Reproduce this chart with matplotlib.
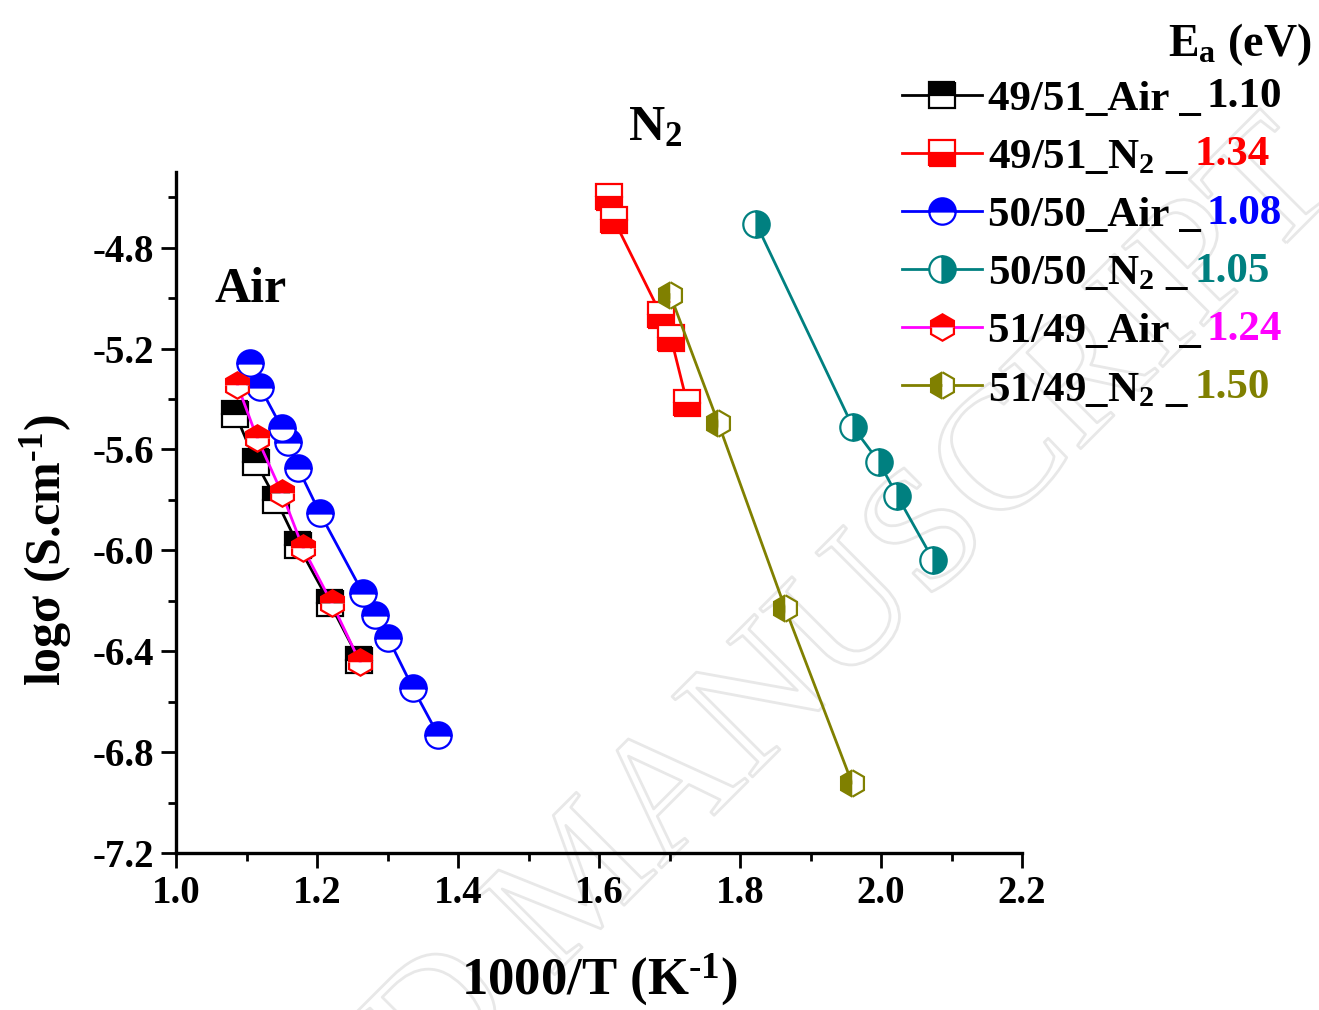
import matplotlib
matplotlib.use("Agg")
import matplotlib.pyplot as plt
import matplotlib.patheffects as pe
from matplotlib.ticker import MultipleLocator

plt.rcParams['font.family'] = ['Liberation Serif', 'DejaVu Serif']
plt.rcParams['font.weight'] = 'bold'
plt.rcParams['mathtext.fontset'] = 'custom'
plt.rcParams['mathtext.rm'] = 'Liberation Serif:bold'
plt.rcParams['mathtext.bf'] = 'Liberation Serif:bold'
plt.rcParams['mathtext.it'] = 'Liberation Serif:bold:italic'
plt.rcParams['axes.unicode_minus'] = False

# ---- data ----
x_4951_air = [1.084, 1.113, 1.142, 1.173, 1.218, 1.260]
y_4951_air = [-5.459, -5.649, -5.800, -5.979, -6.209, -6.435]

x_4951_n2 = [1.614, 1.621, 1.688, 1.702, 1.725]
y_4951_n2 = [-4.598, -4.689, -5.066, -5.157, -5.415]

x_5050_air = [1.105, 1.119, 1.150, 1.159, 1.173, 1.204, 1.265, 1.282, 1.301, 1.336, 1.372]
y_5050_air = [-5.256, -5.352, -5.514, -5.570, -5.673, -5.852, -6.169, -6.256, -6.348, -6.546, -6.733]

x_5050_n2 = [1.823, 1.960, 1.997, 2.023, 2.074]
y_5050_n2 = [-4.705, -5.510, -5.649, -5.784, -6.038]

x_5149_air = [1.087, 1.115, 1.150, 1.180, 1.221, 1.261]
y_5149_air = [-5.344, -5.554, -5.772, -5.990, -6.209, -6.443]

x_5149_n2 = [1.701, 1.769, 1.864, 1.959]
y_5149_n2 = [-4.987, -5.494, -6.229, -6.923]

names = ["49/51_Air _", "49/51_N$_2$ _", "50/50_Air _", "50/50_N$_2$ _", "51/49_Air _", "51/49_N$_2$ _"]
ea_values = ["1.10", "1.34", "1.08", "1.05", "1.24", "1.50"]
line_colors = ["black", "#ff0000", "#0000ff", "#008080", "#ff00ff", "#808000"]
marker_colors = ["black", "#ff0000", "#0000ff", "#008080", "#ff0000", "#808000"]
markers = ["s", "s", "o", "o", "h", "h"]
fills = ["top", "bottom", "top", "right", "top", "left"]

xs = [x_4951_air, x_4951_n2, x_5050_air, x_5050_n2, x_5149_air, x_5149_n2]
ys = [y_4951_air, y_4951_n2, y_5050_air, y_5050_n2, y_5149_air, y_5149_n2]

W, H = 1319, 1010
fig = plt.figure(figsize=(W / 100, H / 100), dpi=100)
ax = fig.add_axes([176 / W, (H - 853) / H, 846 / W, (853 - 172) / H])
ax.patch.set_alpha(0)

handles = []
for x, y, lc, mc, m, fs in zip(xs, ys, line_colors, marker_colors, markers, fills):
    h, = ax.plot(x, y, color=lc, lw=2.0, marker=m, markersize=19, fillstyle=fs,
                 markerfacecolor=mc, markerfacecoloralt='white', markeredgecolor=mc,
                 markeredgewidth=1.6)
    handles.append(h)

ax.set_xlim(1.0, 2.2)
ax.set_ylim(-7.2, -4.5)
ax.xaxis.set_major_locator(MultipleLocator(0.2))
ax.xaxis.set_minor_locator(MultipleLocator(0.1))
ax.yaxis.set_minor_locator(MultipleLocator(0.2))
ax.set_yticks([-7.2, -6.8, -6.4, -6.0, -5.6, -5.2, -4.8])
ax.xaxis.set_major_formatter(plt.FormatStrFormatter('%.1f'))
ax.yaxis.set_major_formatter(plt.FormatStrFormatter('%.1f'))
for s in ['top', 'right']:
    ax.spines[s].set_visible(False)
for s in ['left', 'bottom']:
    ax.spines[s].set_linewidth(2.4)
ax.tick_params(which='major', direction='out', length=11, width=2.0, labelsize=28, pad=5)
ax.tick_params(which='minor', direction='out', length=6, width=2.0)
for lab in ax.get_xticklabels() + ax.get_yticklabels():
    lab.set_fontweight('bold')

ax.set_xlabel(r"1000/T (K$^{\text{-}1}$)", fontsize=38, fontweight='bold', va='center')
ax.xaxis.set_label_coords(0.5, (853 - 980) / 681)
ax.set_ylabel(r"logσ (S.cm$^{\text{-}1}$)", fontsize=36, fontweight='bold', va='center')
ax.yaxis.set_label_coords((46 - 176) / 846, (853 - 550) / 681)

ax.text((251 - 176) / 846, (853 - 290) / 681, "Air", transform=ax.transAxes, fontsize=36,
        fontweight='bold', ha='center', va='center')
ax.text((655 - 176) / 846, (853 - 128) / 681, "N$_2$", transform=ax.transAxes, fontsize=36,
        fontweight='bold', ha='center', va='center')
fig.text(1240 / W, 1 - 45 / H, r"E$_\mathrm{a}$ (eV)", fontsize=33, fontweight='bold',
         ha='center', va='center')

leg = fig.legend(handles, names, loc='upper left', bbox_to_anchor=(902 / W, 1 - 80 / H),
                 frameon=False, handlelength=1.85, handletextpad=0.15,
                 labelspacing=0.44, borderpad=0, borderaxespad=0,
                 prop={'family': 'Liberation Serif', 'weight': 'bold', 'size': 31})
fig.canvas.draw()
for txt, val, c in zip(leg.get_texts(), ea_values, line_colors):
    ax.annotate(val, xy=(1, 0), xycoords=txt, xytext=(4, 2), textcoords='offset points',
                fontsize=31, fontweight='bold', color=c, ha='left', va='bottom',
                annotation_clip=False)

# watermark (hollow, very light, behind everything)
fig.text(585 / W, 1 - 885 / H, "ACCEPTED MANUSCRIPT", fontsize=125, rotation=45,
         ha='center', va='center', color='none', zorder=-5,
         family='Liberation Serif', fontweight='normal',
         path_effects=[pe.Stroke(linewidth=2.0, foreground='#e8e8e8')])

fig.savefig("out.png", dpi=100)
